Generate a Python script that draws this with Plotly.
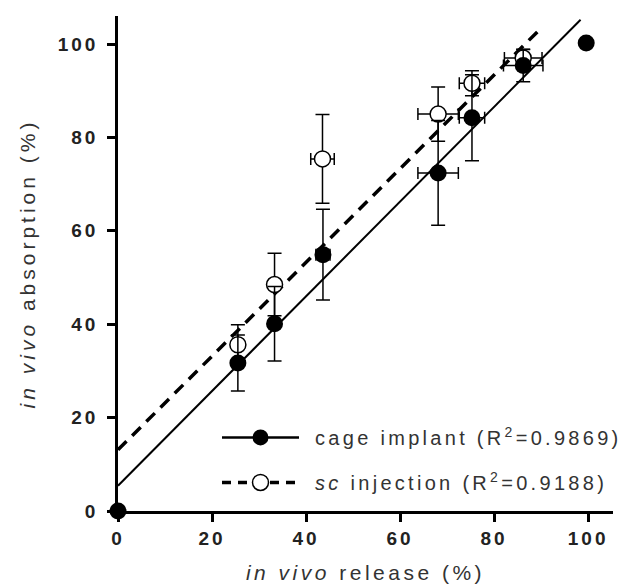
import plotly.graph_objects as go

# cage implant (filled circles)
cage_x = [0, 25.5, 33.3, 43.6, 68.1, 75.3, 86.2, 99.6]
cage_y = [0, 31.7, 40.1, 54.9, 72.4, 84.2, 95.4, 100.2]
cage_xerr = [0, 1.0, 1.0, 1.5, 4.3, 2.7, 4.2, 0]
cage_yerr = [0, 6.0, 8.0, 9.7, 11.2, 9.2, 3.5, 0]

# sc injection (open circles)
sc_x = [25.5, 33.3, 43.5, 68.1, 75.3, 86.2]
sc_y = [35.6, 48.5, 75.4, 85.0, 91.6, 97.0]
sc_xerr = [1.0, 1.0, 2.5, 4.3, 2.7, 4.0]
sc_yerr = [4.3, 6.7, 9.5, 5.8, 2.7, 1.8]

# linear fits (end points)
cage_fit_x = [0, 98.4]
cage_fit_y = [5.4, 105.2]
sc_fit_x = [0, 90.4]
sc_fit_y = [13.1, 103.8]

cage_name = "cage implant (R<sup>2</sup>=0.9869)"
sc_name = "<i>sc</i> injection (R<sup>2</sup>=0.9188)"


def gapped(vals):
    # points separated by None so the line style only shows in the legend
    out = []
    for v in vals:
        out += [v, None]
    return out


FONT = "Arial, Liberation Sans, sans-serif"

fig = go.Figure()

fig.add_trace(go.Scatter(
    x=sc_fit_x, y=sc_fit_y, mode="lines", showlegend=False,
    line=dict(color="black", width=3.5, dash="12px,8px"), hoverinfo="skip",
))
fig.add_trace(go.Scatter(
    x=cage_fit_x, y=cage_fit_y, mode="lines", showlegend=False,
    line=dict(color="black", width=2), hoverinfo="skip",
))

fig.add_trace(go.Scatter(
    x=gapped(sc_x), y=gapped(sc_y), mode="lines+markers", name=sc_name,
    legendgroup="sc", legendrank=2, connectgaps=False,
    line=dict(color="black", width=3.5, dash="9px,7px"),
    marker=dict(symbol="circle", size=16, color="white",
                line=dict(color="black", width=1.5)),
    error_x=dict(type="data", array=gapped(sc_xerr), color="black", thickness=1.5, width=6),
    error_y=dict(type="data", array=gapped(sc_yerr), color="black", thickness=1.5, width=7),
    cliponaxis=False,
))
fig.add_trace(go.Scatter(
    x=gapped(cage_x), y=gapped(cage_y), mode="lines+markers", name=cage_name,
    legendgroup="cage", legendrank=1, connectgaps=False,
    line=dict(color="black", width=2.5),
    marker=dict(symbol="circle", size=17, color="black"),
    error_x=dict(type="data", array=gapped(cage_xerr), color="black", thickness=1.5, width=6),
    error_y=dict(type="data", array=gapped(cage_yerr), color="black", thickness=1.5, width=7),
    cliponaxis=False,
))

axis_common = dict(
    showline=True, linecolor="black", linewidth=2.5,
    ticks="outside", ticklen=8, tickwidth=2.5, tickcolor="black",
    showgrid=False, zeroline=False,
    tickfont=dict(family=FONT, size=19, color="#222", weight="bold"),
    dtick=20, tick0=0,
)

fig.update_layout(
    width=631, height=586,
    paper_bgcolor="white", plot_bgcolor="white",
    margin=dict(l=110, r=26, t=8, b=83),
    xaxis=dict(axis_common, range=[0, 105.3],
               title=dict(text="<i>in vivo</i> release (%)", standoff=18,
                          font=dict(family=FONT, size=21, color="#333"))),
    yaxis=dict(axis_common, range=[0, 106], ticklabelstandoff=5,
               title=dict(text="<i>in vivo</i> absorption (%)", standoff=26,
                          font=dict(family=FONT, size=21, color="#333"))),
    legend=dict(x=0.2, y=0.188, xanchor="left", yanchor="top",
                itemwidth=77, tracegroupgap=16, traceorder="grouped",
                bgcolor="rgba(0,0,0,0)",
                font=dict(family=FONT, size=20, color="#333")),
    showlegend=True,
)

# wide letter spacing as in the original figure
spacing = ("var s=document.createElement('style');"
           "s.innerHTML='.main-svg text{letter-spacing:3px}"
           " .xtitle{letter-spacing:3.5px !important}"
           " .ytitle{letter-spacing:4px !important}"
           " .legend .legendtext{letter-spacing:3.3px !important;transform:translateX(11px)}"
           " .legend .scrollbox{clip-path:none !important}';"
           "document.head.appendChild(s);")

fig.write_html("out.html", post_script=spacing)
